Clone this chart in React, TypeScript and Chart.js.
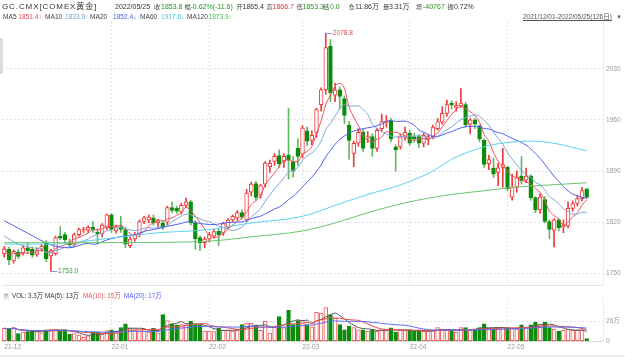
import React, { useEffect, useRef } from 'react';
import { Chart, registerables } from 'chart.js';
Chart.register(...registerables);

const FONT = '"Liberation Sans", "Noto Sans CJK SC", Arial, sans-serif';
const RED = '#ee3b3b';
const GREEN = '#0c8c0c';
const GREEN_WICK = '#62b862';
const TXT_G = '#1f9a1f';
const TXT_R = '#e53535';

// ---- categories / ticks ----
const monthLabels = ['21-12', '22-01', '22-02', '22-03', '22-04', '22-05'];
const monthDays = [23, 21, 20, 23, 21, 18];
const emptySlots = 3;
const priceTicks = [1750, 1820, 1890, 1960, 2030];
const volTicks = [0, 26];

// ---- OHLC ----
const open = [
  1777, 1783, 1767, 1779, 1778, 1785, 1783, 1776, 1783, 1792, 1774, 1777, 1801, 1803, 1792, 1790, 1803, 1809, 1809, 1813, 1806, 1804, 1812,
  1830, 1808, 1814, 1810, 1788, 1797, 1803, 1821, 1823, 1826, 1819, 1819, 1820, 1840, 1839, 1834, 1843, 1848, 1819, 1799, 1792,
  1797, 1801, 1808, 1805, 1814, 1823, 1826, 1833, 1823, 1861, 1873, 1857, 1872, 1896, 1903, 1911, 1903, 1912, 1903, 1921,
  1913, 1945, 1932, 1943, 1981, 2001, 2061, 1994, 2001, 1989, 1953, 1914, 1928, 1943, 1935, 1937, 1921, 1948, 1956, 1958, 1923, 1923, 1937,
  1942, 1937, 1937, 1928, 1934, 1937, 1948, 1957, 1969, 1983, 1977, 1979, 1981, 1954, 1960, 1952, 1932, 1900, 1894, 1888, 1895,
  1895, 1854.4, 1867.8, 1883, 1877.6, 1883, 1853.6, 1836.7, 1851, 1821, 1809, 1823.3, 1813.6, 1815, 1839, 1845.6, 1852.2, 1865.4,
];
const high = [
  1787, 1786, 1782, 1783, 1788, 1792, 1786, 1785, 1790, 1795, 1783, 1801, 1814, 1806, 1797, 1805, 1812, 1813, 1815, 1821, 1811, 1818, 1831,
  1832, 1816, 1828, 1813, 1800, 1806, 1823, 1828, 1830, 1830, 1824, 1822, 1842, 1848, 1842, 1846, 1853, 1850, 1822, 1801, 1800,
  1806, 1810, 1811, 1820, 1825, 1830, 1836, 1837, 1865, 1875, 1876, 1872, 1903, 1905, 1914, 1919, 1914, 1976, 1910, 1934,
  1952, 1950, 1945, 1976, 2004, 2078.8, 2070, 2010, 2005, 1993, 1958, 1931, 1948, 1947, 1944, 1941, 1948, 1968, 1966, 1962, 1926, 1940, 1950,
  1946, 1942, 1940, 1942, 1940, 1953, 1962, 1978, 1987, 1986, 1985, 2003, 1984, 1962, 1962, 1953, 1934, 1912, 1908, 1901, 1921,
  1897, 1885.6, 1890, 1910, 1894, 1885, 1855, 1859, 1855, 1823, 1825, 1825, 1823, 1848, 1849, 1857, 1867.8, 1866.7,
];
const low = [
  1772, 1762, 1764, 1770, 1775, 1778, 1772, 1773, 1780, 1766, 1753, 1775, 1796, 1791, 1786, 1787, 1801, 1806, 1806, 1806, 1790, 1800, 1810,
  1806, 1805, 1806, 1785, 1785, 1794, 1800, 1818, 1819, 1816, 1814, 1810, 1816, 1833, 1832, 1831, 1840, 1816, 1783, 1781, 1785,
  1793, 1798, 1788, 1802, 1811, 1820, 1823, 1824, 1821, 1856, 1850, 1853, 1868, 1888, 1898, 1895, 1895, 1879, 1882, 1898,
  1908, 1925, 1926, 1936, 1972, 1995, 1985, 1985, 1975, 1955, 1906, 1896, 1924, 1917, 1929, 1910, 1917, 1944, 1950, 1930, 1890, 1920, 1932,
  1925, 1929, 1922, 1923, 1926, 1934, 1946, 1954, 1965, 1975, 1972, 1977, 1950, 1941, 1948, 1930, 1895, 1892, 1881, 1870, 1868,
  1863, 1850, 1861, 1872, 1874, 1850, 1833, 1832, 1819, 1797, 1786, 1808, 1805.6, 1812, 1835, 1842, 1849, 1853.3,
];
const close = [
  1783.5, 1768.5, 1780, 1773, 1785, 1781, 1775, 1782, 1787, 1770, 1781, 1799, 1798, 1796, 1789, 1803, 1810, 1811, 1813, 1810, 1804, 1816, 1830,
  1810, 1814, 1810, 1790, 1797, 1803, 1821, 1826, 1827, 1819, 1822, 1814, 1840, 1836, 1835, 1843, 1848, 1819, 1797, 1792, 1797,
  1803, 1807, 1803, 1818, 1823, 1828, 1833, 1827, 1860, 1872, 1854, 1870, 1901, 1901, 1910, 1900, 1910, 1905, 1890, 1910,
  1948.7, 1931, 1939, 1974, 2001, 2059, 1997, 2001, 1992, 1966, 1932, 1928, 1943, 1921, 1937, 1921, 1945.6, 1957.6, 1958.5, 1934, 1919, 1936.7, 1943,
  1928, 1934, 1928, 1939, 1937, 1950, 1957.6, 1969, 1981, 1980, 1980, 1983, 1953, 1960, 1954, 1933.6, 1899, 1905.6, 1885.6, 1894.4, 1899,
  1866, 1867.8, 1881, 1876.7, 1883, 1853.6, 1836.7, 1854.4, 1821, 1810, 1823.3, 1812, 1816, 1839, 1845.6, 1852.2, 1863.3, 1853.8,
];
// volume in 万 lots
const volume = [
  17, 16, 18, 10, 12, 12.6, 13, 14, 11, 15, 16, 16, 15, 13, 9, 10, 8, 5, 7, 12, 12, 10, 14,
  15, 13, 18, 23, 17, 14, 13, 16, 12, 17, 11, 35, 27, 23, 21.6, 22, 21.6, 26, 21.6, 21, 13.3,
  13.3, 12.6, 17, 14.4, 14.4, 13.3, 14.4, 22, 24, 23.4, 20.5, 14.4, 26, 10.8, 19.8, 32.5, 18, 40.7, 22, 27,
  27, 22, 19, 38, 37, 44.4, 35, 30.6, 22, 15, 20, 18, 15, 15, 13, 15.5, 13, 15, 15, 17.6, 12, 15, 14,
  15, 13, 14, 13, 13, 14, 18, 16, 15, 14, 12, 18, 18, 14.4, 15.5, 18, 22.7, 17, 16.2, 16, 18,
  18, 17, 16, 21.6, 18, 21.6, 25.2, 22, 25.2, 18, 16, 13.3, 14.4, 16, 14.4, 14.4, 14.4, 3.3,
];

// ---- moving-average readings where the picture needs earlier history ----
const ma10HeadAt = [0, 3, 6, 8];
const ma10HeadVal = [1801, 1790, 1785, 1783];
const ma20HeadAt = [0, 5, 10, 14, 18];
const ma20HeadVal = [1822, 1805, 1789, 1785, 1791];
const ma60At = [0, 10, 20, 32, 44, 53, 64, 71, 78, 85, 92, 96, 100, 104, 108, 113, 117, 121, 125];
const ma60Val = [1790, 1790, 1796, 1805, 1810, 1819, 1828, 1843, 1858, 1871, 1890, 1906, 1917, 1925, 1929, 1931, 1929, 1924, 1917.6];
const ma120At = [0, 20, 40, 46, 53, 64, 71, 78, 85, 92, 96, 103, 108, 117, 125];
const ma120Val = [1792, 1792, 1793, 1795, 1800, 1808, 1819, 1833, 1845, 1854, 1858, 1863, 1867, 1871, 1873.9];

// ---- derived structures ----
const categories: string[] = [];
const monthStart: number[] = [];
monthLabels.forEach((m, k) => {
  monthStart.push(categories.length);
  for (let d = 0; d < monthDays[k]; d++) categories.push(`${m}/${d + 1}`);
});
for (let k = 0; k < emptySlots; k++) categories.push(`+${k}`);
const gridIdx = new Set(monthStart.slice(1));

function movingAvg(src: number[], n: number, from: number) {
  const out: (number | null)[] = [];
  for (let i = 0; i < src.length; i++) {
    if (i < from) { out.push(null); continue; }
    const s = Math.max(0, i - n + 1);
    let sum = 0;
    for (let k = s; k <= i; k++) sum += src[k];
    out.push(sum / (i - s + 1));
  }
  return out;
}
function fromSamples(at: number[], val: number[], base?: (number | null)[]) {
  const a: (number | null)[] = base ? base.slice() : new Array(close.length).fill(null);
  at.forEach((ix, k) => { if (a[ix] == null) a[ix] = val[k]; });
  return a;
}

const up = close.map((c, i) => c >= open[i]);

const xTickCb = (_v: any, i: number) => {
  const k = monthStart.indexOf(i);
  return k >= 0 ? monthLabels[k] : '';
};
const gridColor = (c: any) => (gridIdx.has(c.index) ? '#e2e2e2' : 'rgba(0,0,0,0)');

const lineDs = (data: (number | null)[], color: string) => ({
  type: 'line' as const,
  data,
  borderColor: color,
  borderWidth: 1,
  pointRadius: 0,
  cubicInterpolationMode: 'monotone' as const,
  spanGaps: true,
  fill: false,
  order: 0,
});

const markPlugin = {
  id: 'extremeMarks',
  afterDatasetsDraw(chart: any) {
    const { ctx, scales } = chart;
    const hiIdx = high.indexOf(Math.max(...high));
    const loIdx = low.indexOf(Math.min(...low));
    const draw = (idx: number, val: number, color: string) => {
      const px = scales.x.getPixelForValue(idx);
      const py = Math.round(scales.y.getPixelForValue(val)) + 0.5;
      ctx.save();
      ctx.strokeStyle = '#7ea6d6';
      ctx.lineWidth = 1;
      ctx.beginPath();
      ctx.moveTo(px, py);
      ctx.lineTo(px + 6.5, py);
      ctx.stroke();
      ctx.fillStyle = color;
      ctx.font = `6.6px ${FONT}`;
      ctx.textBaseline = 'middle';
      ctx.textAlign = 'left';
      ctx.fillText(val.toFixed(1), px + 7, py);
      ctx.restore();
    };
    draw(hiIdx, high[hiIdx], '#e5484d');
    draw(loIdx, low[loIdx], '#3a9e3a');
  },
};

function PriceChart() {
  const ref = useRef<HTMLCanvasElement>(null);
  useEffect(() => {
    const ma5 = movingAvg(close, 5, 0);
    const ma10 = fromSamples(ma10HeadAt, ma10HeadVal, movingAvg(close, 10, 9));
    const ma20 = fromSamples(ma20HeadAt, ma20HeadVal, movingAvg(close, 20, 19));
    const ma60 = fromSamples(ma60At, ma60Val);
    const ma120 = fromSamples(ma120At, ma120Val);
    const chart = new Chart(ref.current!, {
      type: 'bar',
      data: {
        labels: categories,
        datasets: [
          {
            type: 'bar',
            data: high.map((h, i) => [low[i], h]) as any,
            backgroundColor: up.map((u) => (u ? RED : GREEN_WICK)),
            borderWidth: 0,
            barThickness: 1,
            grouped: false,
            order: 3,
          } as any,
          {
            type: 'bar',
            data: open.map((o, i) => [o, close[i]]) as any,
            backgroundColor: up.map((u) => (u ? '#ffffff' : GREEN)),
            borderColor: up.map((u) => (u ? RED : GREEN)),
            borderWidth: 1,
            borderSkipped: false,
            barThickness: 3.8,
            minBarLength: 1,
            grouped: false,
            order: 2,
          } as any,
          lineDs(ma120, '#6cc46c'),
          lineDs(ma60, '#5cd2ec'),
          lineDs(ma20, '#4c63f2'),
          lineDs(ma10, '#7ea6d6'),
          lineDs(ma5, '#ec5060'),
        ] as any,
      },
      options: {
        responsive: false,
        animation: false,
        events: [],
        layout: { padding: { left: 2, right: 0, top: 21, bottom: 0 } },
        plugins: { legend: { display: false }, tooltip: { enabled: false } },
        scales: {
          x: {
            type: 'category',
            offset: true,
            grid: { offset: false, drawTicks: false, color: gridColor, lineWidth: 1 },
            border: { display: true, color: '#e4e4e4', dash: [2, 2] },
            ticks: { display: false, autoSkip: false },
          },
          y: {
            position: 'right',
            min: 1734,
            max: 2095.33,
            beginAtZero: false,
            afterBuildTicks: (s: any) => { s.ticks = priceTicks.map((v) => ({ value: v })); },
            afterFit: (s: any) => { s.width = 37; },
            grid: { color: '#e2e2e2', drawTicks: false },
            border: { display: true, color: '#ececec', dash: [2, 2] },
            ticks: {
              color: '#9a9a9a',
              padding: 3,
              font: { size: 6.6, family: FONT },
              callback: (v: any) => String(v),
            },
          },
        },
      } as any,
      plugins: [markPlugin],
    });
    return () => chart.destroy();
  }, []);
  return <canvas ref={ref} width={640} height={292} style={{ position: 'absolute', left: 0, top: 0 }} />;
}

function VolumeChart() {
  const ref = useRef<HTMLCanvasElement>(null);
  useEffect(() => {
    const v5 = movingAvg(volume, 5, 0);
    const v10 = movingAvg(volume, 10, 0);
    const v20 = movingAvg(volume, 20, 0);
    const chart = new Chart(ref.current!, {
      type: 'bar',
      data: {
        labels: categories,
        datasets: [
          {
            type: 'bar',
            data: volume,
            backgroundColor: up.map((u) => (u ? '#ffffff' : GREEN)),
            borderColor: up.map((u) => (u ? '#f05a5a' : GREEN)),
            borderWidth: 1,
            borderSkipped: false,
            barThickness: 3.8,
            grouped: false,
            order: 2,
          } as any,
          lineDs(v20, '#5a6cf6'),
          lineDs(v10, '#e84a4a'),
          lineDs(v5, '#555555'),
        ] as any,
      },
      options: {
        responsive: false,
        animation: false,
        events: [],
        layout: { padding: { left: 2, right: 0, top: 0, bottom: 8.9 } },
        plugins: { legend: { display: false }, tooltip: { enabled: false } },
        scales: {
          x: {
            type: 'category',
            offset: true,
            grid: { offset: false, drawTicks: false, color: gridColor, lineWidth: 1 },
            border: { display: true, color: '#dcdcdc', dash: [2, 2] },
            ticks: {
              autoSkip: false,
              maxRotation: 0,
              minRotation: 0,
              align: 'start',
              padding: 2,
              color: '#9a9a9a',
              font: { size: 6.6, family: FONT },
              callback: xTickCb,
            },
          },
          y: {
            position: 'right',
            min: 0,
            max: 55.6,
            afterBuildTicks: (s: any) => { s.ticks = volTicks.map((v) => ({ value: v })); },
            afterFit: (s: any) => { s.width = 37; },
            grid: { color: (c: any) => (c.tick && c.tick.value > 0 ? '#e2e2e2' : 'rgba(0,0,0,0)'), drawTicks: false },
            border: { display: true, color: '#ececec', dash: [2, 2] },
            ticks: {
              color: '#9a9a9a',
              padding: 3,
              font: { size: 6.6, family: FONT },
              callback: (v: any) => (v === 0 ? '0' : `${v}万`),
            },
          },
        },
      } as any,
    });
    return () => chart.destroy();
  }, []);
  return <canvas ref={ref} width={640} height={70} style={{ position: 'absolute', left: 0, top: 292 }} />;
}

type Tok = { x: number; t: string; c: string; s?: number; ls?: number };
const row1: Tok[] = [
  { x: 2, t: 'GC.CMX[COMEX黄金]', c: '#333', s: 8, ls: 0.9 },
  { x: 115, t: '2022/05/25', c: '#333' },
  { x: 154, t: '收', c: '#444', s: 6.2 },
  { x: 161, t: '1853.8', c: TXT_G },
  { x: 184.5, t: '幅', c: '#444', s: 6.2 },
  { x: 190.5, t: '-0.62%(-11.6)', c: TXT_G },
  { x: 236.5, t: '开', c: '#444', s: 6.2 },
  { x: 242.5, t: '1865.4', c: '#333' },
  { x: 266.5, t: '高', c: '#444', s: 6.2 },
  { x: 272.5, t: '1866.7', c: TXT_R },
  { x: 296.5, t: '低', c: '#444', s: 6.2 },
  { x: 302.5, t: '1853.3', c: TXT_G },
  { x: 323, t: '结', c: '#444', s: 6.2 },
  { x: 330, t: '0.0', c: TXT_G },
  { x: 348.5, t: '仓', c: '#444', s: 6.2 },
  { x: 355, t: '11.86万', c: '#333' },
  { x: 383, t: '量', c: '#444', s: 6.2 },
  { x: 389, t: '3.31万', c: '#333' },
  { x: 416, t: '增', c: '#444', s: 6.2 },
  { x: 423, t: '-40767', c: TXT_G },
  { x: 447.5, t: '振', c: '#444', s: 6.2 },
  { x: 454, t: '0.72%', c: '#333' },
];
const row2: Tok[] = [
  { x: 3, t: 'MA5', c: '#444' },
  { x: 18.3, t: '1851.4↑', c: '#ec4b5a' },
  { x: 45, t: 'MA10', c: '#444' },
  { x: 65, t: '1833.9↑', c: '#6e9fd4' },
  { x: 90, t: 'MA20', c: '#444' },
  { x: 113, t: '1852.4↓', c: '#4b5cf5' },
  { x: 140, t: 'MA60', c: '#444' },
  { x: 161, t: '1917.6↓', c: '#3ec6e6' },
  { x: 187, t: 'MA120', c: '#444' },
  { x: 208.5, t: '1873.9↑', c: '#4cb84c' },
];
const volRow: Tok[] = [
  { x: 12, t: 'VOL: 3.3万', c: '#333' },
  { x: 45, t: 'MA(5): 13万', c: '#333' },
  { x: 83, t: 'MA(10): 15万', c: '#e8505a' },
  { x: 124, t: 'MA(20): 17万', c: '#4b5cf5' },
];

function Row({ toks, cy, size }: { toks: Tok[]; cy: number; size: number }) {
  return (
    <>
      {toks.map((k, i) => (
        <div
          key={i}
          style={{
            position: 'absolute',
            left: k.x,
            top: cy - 5,
            height: 10,
            lineHeight: '10px',
            fontSize: k.s ?? size,
            letterSpacing: k.ls ?? 0,
            color: k.c,
            whiteSpace: 'nowrap',
          }}
        >
          {k.t}
        </div>
      ))}
    </>
  );
}

export default function App() {
  return (
    <div
      style={{
        position: 'absolute',
        left: 0,
        top: 0,
        width: 640,
        height: 362,
        background: '#fff',
        overflow: 'hidden',
        fontFamily: FONT,
      }}
    >
      <PriceChart />
      <VolumeChart />
      <div style={{ position: 'absolute', left: 0, top: 38, width: 2.5, height: 36, background: '#dcdcdc' }} />
      <div style={{ position: 'absolute', left: 0, top: 355, width: 625, height: 2, background: '#ececec' }} />
      <Row toks={row1} cy={6.5} size={7.0} />
      <Row toks={row2} cy={16.5} size={6.6} />
      <div
        style={{
          position: 'absolute',
          left: 523,
          top: 12,
          lineHeight: '10px',
          fontSize: 6.5,
          color: '#555',
          textDecoration: 'underline',
          whiteSpace: 'nowrap',
        }}
      >
        2021/12/01-2022/05/25(126日)
      </div>
      <div style={{ position: 'absolute', left: 616, top: 12, lineHeight: '10px', fontSize: 6, color: '#666' }}>▼</div>
      <div
        style={{
          position: 'absolute',
          left: 3,
          top: 292.5,
          width: 6,
          height: 7,
          background: '#eeeeee',
          fontSize: 5.5,
          lineHeight: '7px',
          textAlign: 'center',
          color: '#555',
        }}
      >
        ?
      </div>
      <Row toks={volRow} cy={295.7} size={6.3} />
    </div>
  );
}
